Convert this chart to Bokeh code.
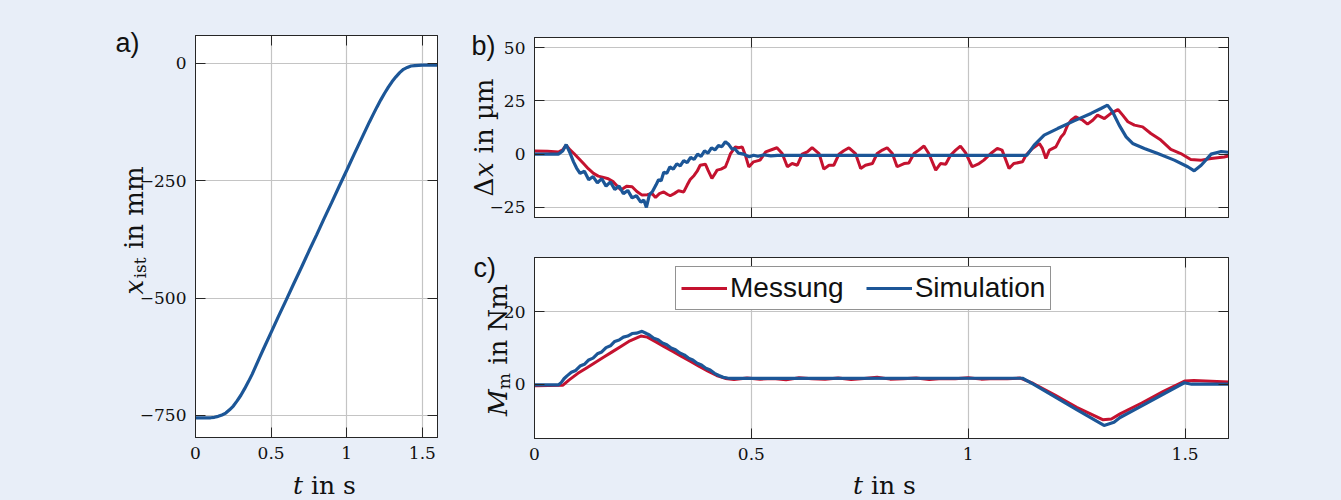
import math
from bokeh.plotting import figure
from bokeh.layouts import row, column
from bokeh.models import (Label, Legend, LegendItem, LinearAxis, FixedTicker,
                          CustomJSTickFormatter, Range1d)
from bokeh.embed import file_html
from bokeh.resources import INLINE

BG = "#E8EEF8"
RED = "#C4122F"
BLUE = "#1C5697"
DARK = "#262626"
GRID = "#C4C4C4"
PAGE_W, PAGE_H = 1340, 499

# ---------------- data ----------------
# a) position x_ist in mm
t_pos = [0.00, 0.05, 0.10, 0.125, 0.15, 0.175, 0.20, 0.225, 0.25, 0.275, 0.30, 0.325, 0.35, 0.375,
         0.40, 0.425, 0.45, 0.50, 0.55, 0.60, 0.65, 0.70, 0.75, 0.80, 0.85, 0.90, 0.95, 1.00,
         1.05, 1.10, 1.15, 1.175, 1.20, 1.225, 1.25, 1.275, 1.30, 1.325, 1.35, 1.375, 1.40,
         1.425, 1.45, 1.50, 1.55, 1.60]
x_ist = [-755, -755, -755, -754, -752, -749, -745, -738, -730, -719, -707, -693, -678, -662,
         -644, -626, -608, -573, -538, -504, -469, -435, -400, -366, -331, -297, -262, -228,
         -193, -159, -125, -109, -93, -78, -64, -51, -39, -29, -20, -13, -9,
         -6, -5, -4, -4, -4]

# b) deviation dx in um - Messung
t_dx_mess = [0.000, 0.030, 0.055, 0.065, 0.073, 0.082, 0.091, 0.102, 0.113, 0.124, 0.136, 0.147,
             0.159, 0.170, 0.182, 0.190, 0.198, 0.205, 0.213, 0.225, 0.236, 0.248, 0.260, 0.271,
             0.279, 0.288, 0.298, 0.306, 0.313, 0.322, 0.332, 0.344, 0.352, 0.359, 0.368, 0.375,
             0.382, 0.394, 0.400, 0.409, 0.415, 0.421, 0.430, 0.440, 0.446, 0.452, 0.463, 0.471,
             0.479, 0.487, 0.494, 0.505, 0.520, 0.533, 0.548, 0.559, 0.571, 0.583, 0.594, 0.606,
             0.617, 0.629, 0.640, 0.656, 0.667, 0.679, 0.690, 0.702, 0.713, 0.725, 0.740, 0.752,
             0.763, 0.779, 0.790, 0.802, 0.813, 0.825, 0.836, 0.852, 0.863, 0.875, 0.886, 0.898,
             0.909, 0.925, 0.936, 0.948, 0.959, 0.971, 0.982, 0.994, 1.009, 1.025, 1.036, 1.052,
             1.067, 1.078, 1.094, 1.105, 1.125, 1.133, 1.148, 1.164, 1.171, 1.179, 1.187, 1.202,
             1.214, 1.221, 1.229, 1.237, 1.248, 1.264, 1.275, 1.287, 1.298, 1.314, 1.329, 1.345,
             1.356, 1.368, 1.383, 1.402, 1.421, 1.444, 1.467, 1.490, 1.513, 1.537, 1.560, 1.590,
             1.600]
dx_mess = [1.5, 1.4, 1.0, 2.0, 4.2, 2.0, 0.3, -2.0, -4.4, -6.8, -9.0, -10.3,
           -10.9, -11.5, -13.0, -14.8, -16.6, -16.0, -15.0, -15.3, -17.5, -19.2, -19.0, -18.4,
           -20.3, -18.5, -17.7, -18.8, -19.5, -18.5, -17.2, -17.7, -14.5, -11.9, -10.0, -8.0,
           -5.2, -4.7, -7.5, -11.4, -9.5, -7.5, -7.0, -6.0, -3.0, 0.3, 3.4, 3.0,
           3.4, -1.0, -6.0, -3.6, -2.8, 1.1, 2.2, 3.0, 0.3, -5.9, -4.4, -5.2,
           0.0, 1.1, 3.1, 0.3, -7.0, -5.2, -5.2, 0.0, 1.6, 3.0, 0.3, -6.7,
           -5.2, -4.4, 0.3, 1.9, 3.0, 0.3, -5.9, -4.4, -4.1, 0.3, 1.9, 3.8,
           0.3, -7.5, -4.4, -4.7, -0.5, 1.9, 3.8, 0.6, -5.9, -4.4, -2.8, 0.3,
           2.7, 1.9, -6.7, -4.4, -3.6, -0.5, 2.7, 5.0, 2.7, -2.0, 1.9, 3.4,
           8.1, 9.7, 13.6, 15.9, 17.5, 15.9, 14.1, 15.9, 18.3, 16.7, 19.1, 20.9,
           18.3, 15.2, 13.6, 12.8, 9.7, 6.6, 2.2, 0.3, -2.5, -2.8, -2.0, -1.3,
           -0.9]

# b) deviation dx in um - Simulation
t_dx_sim = [0.000, 0.055, 0.065, 0.073, 0.082, 0.090, 0.097, 0.105, 0.115, 0.125, 0.135, 0.145,
            0.155, 0.165, 0.175, 0.185, 0.195, 0.205, 0.215, 0.225, 0.235, 0.245, 0.252, 0.258,
            0.265, 0.272, 0.280, 0.286, 0.292, 0.298, 0.305, 0.312, 0.320, 0.328, 0.336, 0.344,
            0.352, 0.360, 0.368, 0.376, 0.384, 0.392, 0.400, 0.408, 0.416, 0.424, 0.432, 0.440,
            0.448, 0.455, 0.462, 0.470, 0.482, 0.495, 0.505, 0.515, 0.530, 0.545, 0.560, 1.135,
            1.152, 1.175, 1.206, 1.244, 1.283, 1.306, 1.321, 1.333, 1.348, 1.364, 1.379, 1.406,
            1.437, 1.475, 1.506, 1.521, 1.537, 1.560, 1.583, 1.600]
dx_sim = [0.0, 0.0, 1.5, 4.5, 0.5, -3.6, -6.5, -9.0, -8.0, -12.0, -10.5, -13.5,
          -11.5, -15.0, -13.0, -16.5, -15.0, -18.5, -17.0, -20.5, -19.5, -22.5, -21.5, -25.0,
          -19.0, -17.5, -14.5, -12.0, -12.5, -8.5, -9.0, -6.0, -7.0, -4.5, -5.5, -3.0,
          -4.0, -1.5, -2.5, 0.0, -1.0, 1.5, 0.5, 3.0, 2.0, 4.0, 3.5, 5.8,
          4.5, 2.5, 2.5, 0.5, 0.0, -1.2, -0.5, -1.0, -0.3, -0.8, -0.6, -0.6,
          4.2, 8.9, 12.0, 15.6, 19.1, 21.4, 23.0, 19.8, 13.6, 8.1, 5.0, 2.7,
          0.3, -2.8, -5.9, -7.8, -5.2, 0.0, 1.25, 0.9]

# c) motor torque in Nm - Messung
t_m_mess = [0.000, 0.065, 0.080, 0.100, 0.120, 0.140, 0.160, 0.180, 0.200, 0.220, 0.245, 0.260,
            0.280, 0.300, 0.320, 0.340, 0.360, 0.380, 0.400, 0.420, 0.440, 0.460, 0.490, 0.520,
            0.550, 0.580, 0.610, 0.640, 0.670, 0.700, 0.730, 0.760, 0.790, 0.820, 0.850, 0.880,
            0.910, 0.940, 0.970, 1.000, 1.030, 1.060, 1.090, 1.120, 1.150, 1.200, 1.250, 1.310,
            1.330, 1.350, 1.400, 1.450, 1.500, 1.520, 1.600]
m_mess = [-0.4, -0.3, 1.2, 3.0, 4.5, 6.0, 7.5, 9.0, 10.5, 12.0, 13.3, 13.0,
          11.7, 10.3, 9.0, 7.6, 6.3, 4.9, 3.6, 2.4, 1.6, 1.3, 1.7, 1.4,
          1.6, 1.2, 1.8, 1.5, 1.4, 1.7, 1.3, 1.6, 1.9, 1.4, 1.5, 1.7,
          1.3, 1.6, 1.5, 1.8, 1.4, 1.6, 1.5, 1.7, 0.2, -3.0, -6.4, -9.8,
          -9.6, -8.2, -5.2, -2.0, 0.9, 1.0, 0.6]

# c) motor torque in Nm - Simulation
t_m_sim = [0.000, 0.055, 0.062, 0.068, 0.075, 0.085, 0.095, 0.105, 0.115, 0.125, 0.135, 0.145,
           0.155, 0.165, 0.175, 0.185, 0.195, 0.205, 0.215, 0.225, 0.235, 0.248, 0.258, 0.265,
           0.275, 0.285, 0.295, 0.305, 0.315, 0.325, 0.335, 0.345, 0.355, 0.365, 0.375, 0.385,
           0.395, 0.405, 0.415, 0.425, 0.435, 0.445, 0.460, 1.125, 1.150, 1.200, 1.250, 1.313,
           1.336, 1.350, 1.400, 1.450, 1.498, 1.515, 1.600]
m_sim = [-0.2, -0.2, 0.5, 1.5, 2.3, 3.3, 3.8, 5.0, 5.5, 6.7, 7.2, 8.4,
         8.9, 10.1, 10.6, 11.8, 12.2, 13.0, 13.3, 14.0, 14.1, 14.6, 14.0, 13.6,
         12.7, 12.3, 11.4, 10.9, 10.0, 9.5, 8.6, 8.1, 7.2, 6.7, 5.8, 5.3,
         4.4, 3.9, 3.0, 2.4, 1.9, 1.7, 1.6, 1.65, 0.0, -3.5, -7.0, -11.4,
         -10.5, -9.2, -6.0, -2.7, 0.4, 0.0, 0.0]

# ticks
t_ticks = [0, 0.5, 1, 1.5]
t_tick_labels = ["0", "0.5", "1", "1.5"]
a_yticks = [0, -250, -500, -750]
a_ytick_labels = ["0", "\u2212250", "\u2212500", "\u2212750"]
b_yticks = [50, 25, 0, -25]
b_ytick_labels = ["50", "25", "0", "\u221225"]
c_yticks = [20, 0]
c_ytick_labels = ["20", "0"]

legend_labels = ["Messung", "Simulation"]
panel_letters = ["a)", "b)", "c)"]

# ---------------- helpers ----------------
SERIF = "DejaVu Serif"
SANS = "Liberation Sans"
TICK_SIZE = "17px"


def style_axis(ax, ticks, labels=None):
    ax.ticker = FixedTicker(ticks=ticks)
    ax.major_tick_in = 10
    ax.major_tick_out = 0
    ax.minor_tick_line_color = None
    ax.major_tick_line_color = DARK
    ax.major_tick_line_width = 1
    ax.axis_line_color = DARK
    if labels is not None:
        ax.major_label_overrides = dict(zip(ticks, labels))
        ax.major_label_text_font = SERIF
        ax.major_label_text_font_size = TICK_SIZE
        ax.major_label_text_color = "#111111"
        ax.major_label_standoff = 9
    else:
        ax.formatter = CustomJSTickFormatter(code="return ''")
        ax.major_label_text_font_size = "1px"
        ax.major_label_standoff = 0


def make_fig(width, height, yr, borders, yticks, ylabels, show_x):
    l, r, t, b = borders
    p = figure(width=width, height=height, x_range=Range1d(0, 1.6), y_range=Range1d(*yr),
               output_backend="svg", toolbar_location=None,
               min_border_left=l, min_border_right=r, min_border_top=t, min_border_bottom=b)
    p.background_fill_color = "white"
    p.border_fill_color = BG
    p.outline_line_color = DARK
    p.outline_line_width = 1
    style_axis(p.xaxis[0], t_ticks, t_tick_labels if show_x else None)
    style_axis(p.yaxis[0], yticks, ylabels)
    top = LinearAxis()
    style_axis(top, t_ticks, None)
    right = LinearAxis()
    style_axis(right, yticks, None)
    p.add_layout(top, "above")
    p.add_layout(right, "right")
    p.xgrid.ticker = FixedTicker(ticks=t_ticks)
    p.ygrid.ticker = FixedTicker(ticks=yticks)
    for g in (p.xgrid, p.ygrid):
        g.grid_line_color = GRID
        g.grid_line_width = 1.2
    return p


# ---------------- panel a ----------------
fa = make_fig(468, 499, (-797, 59), (195, 31, 35, 62), a_yticks, a_ytick_labels, True)
fa.line(t_pos, x_ist, line_color=BLUE, line_width=3.2)

# ---------------- panel b ----------------
fb = make_fig(872, 236, (-29.7, 54.7), (66, 112, 37, 19), b_yticks, b_ytick_labels, False)
fb.line(t_dx_mess, dx_mess, line_color=RED, line_width=3)
fb.line(t_dx_sim, dx_sim, line_color=BLUE, line_width=3.2)

# ---------------- panel c ----------------
fc = make_fig(872, 263, (-15, 35), (66, 112, 21, 61), c_yticks, c_ytick_labels, True)
r_mess = fc.line(t_m_mess, m_mess, line_color=RED, line_width=3)
r_sim = fc.line(t_m_sim, m_sim, line_color=BLUE, line_width=3.2)

legend = Legend(items=[LegendItem(label=legend_labels[0], renderers=[r_mess]),
                       LegendItem(label=legend_labels[1], renderers=[r_sim])],
                location=(141, 128), orientation="horizontal",
                label_text_font=SANS, label_text_font_size="28px", label_text_color="#111111",
                glyph_width=46, glyph_height=30, label_standoff=3, spacing=22,
                padding=5, margin=0, border_line_color=DARK, border_line_width=1,
                background_fill_color="white", background_fill_alpha=1.0)
fc.add_layout(legend)

# ---------------- transparent text layer (axis titles, panel letters) ----------------
tf = figure(width=PAGE_W, height=PAGE_H, x_range=Range1d(0, PAGE_W), y_range=Range1d(0, PAGE_H),
            x_axis_type=None, y_axis_type=None, output_backend="svg", toolbar_location=None,
            min_border=0)
tf.outline_line_color = None
tf.background_fill_alpha = 0
tf.border_fill_alpha = 0
tf.margin = (-PAGE_H, 0, 0, 0)

W = {' ': 0.318, 'i': 0.320, 'n': 0.644, 'm': 0.948, 's': 0.513, 't': 0.402,
     'N': 0.837, '\u00b5': 0.648, 'x': 0.592, 'M': 0.995, '\u0394': 0.745}


def tw(s, size):
    return sum(W.get(c, 0.6) for c in s) * size


def put(txt, px, py, size, font=SERIF, italic=False, angle=0.0, align="left", baseline="alphabetic"):
    tf.add_layout(Label(x=px, y=PAGE_H - py, x_units="screen", y_units="screen", text=txt,
                        text_font=font, text_font_size=f"{size}px",
                        text_font_style="italic" if italic else "normal",
                        text_color="#111111", text_align=align, text_baseline=baseline,
                        angle=angle))


def composite(pieces, bx, by, vertical):
    # pieces: (text, size, italic, subscript offset px, gap before in em)
    # vertical: bx = baseline x, by = centre y ; horizontal: bx = centre x, by = baseline y
    total = sum(tw(t, s) + g * s for t, s, _, _, g in pieces)
    pos = (by + total / 2) if vertical else (bx - total / 2)
    for t, s, it, off, g in pieces:
        if vertical:
            pos -= g * s
            put(t, bx + off, pos, s, italic=it, angle=math.pi / 2)
            pos -= tw(t, s)
        else:
            pos += g * s
            put(t, pos, by + off, s, italic=it)
            pos += tw(t, s)


LAB = 25
VLAB = 26
SUB = 17
composite([("x", VLAB, True, 0, 0), ("ist", SUB, False, 6, 0.05), ("in mm", VLAB, False, 0, 0.318)],
          133, 230, True)
composite([("t", LAB, True, 0, 0), ("in s", LAB, False, 0, 0.318)], 324, 485, False)
composite([("\u0394", VLAB, False, 0, 0), ("x", VLAB, True, 0, 0), ("in \u00b5m", VLAB, False, 0, 0.318)],
          483, 137, True)
composite([("M", VLAB, True, 0, 0), ("m", SUB, False, 6, 0.05), ("in Nm", VLAB, False, 0, 0.318)],
          497, 350, True)
composite([("t", LAB, True, 0, 0), ("in s", LAB, False, 0, 0.318)], 884, 485, False)

put(panel_letters[0], 115, 42, 27, font=SANS)
put(panel_letters[1], 471, 45, 27, font=SANS)
put(panel_letters[2], 473, 267, 27, font=SANS)

layout = column(row(fa, column(fb, fc)), tf)

html = file_html(layout, INLINE, title="Messung vs. Simulation")
html = html.replace("</head>", "<style>html,body{margin:0;padding:0;background:%s;}</style></head>" % BG, 1)
open("out.html", "w").write(html)
